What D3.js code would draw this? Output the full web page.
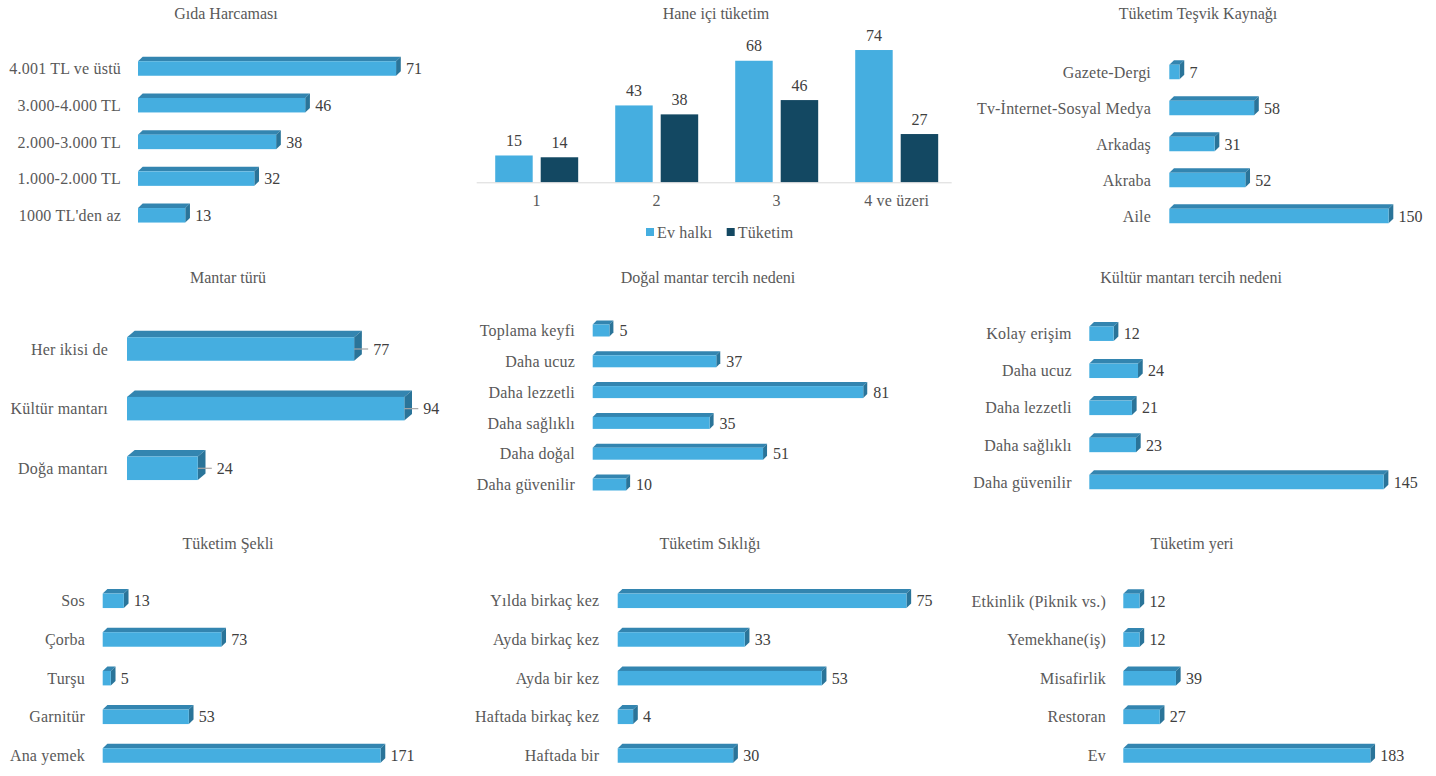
<!DOCTYPE html>
<html><head><meta charset="utf-8">
<script src="https://cdn.jsdelivr.net/npm/d3@7"></script>
<style>
html,body{margin:0;padding:0;background:#fff;}
</style></head>
<body>
<svg id="c" width="1436" height="776"></svg>
<script>
// ---------- DATA ----------
const gidaTitle = "Gıda Harcaması";
const gidaCats = ["4.001 TL ve üstü", "3.000-4.000 TL", "2.000-3.000 TL", "1.000-2.000 TL", "1000 TL'den az"];
const gidaVals = [71, 46, 38, 32, 13];

const haneTitle = "Hane içi tüketim";
const haneCats = ["1", "2", "3", "4 ve üzeri"];
const haneSeries = ["Ev halkı", "Tüketim"];
const haneEvHalki = [15, 43, 68, 74];
const haneTuketim = [14, 38, 46, 27];

const tesvikTitle = "Tüketim Teşvik Kaynağı";
const tesvikCats = ["Gazete-Dergi", "Tv-İnternet-Sosyal Medya", "Arkadaş", "Akraba", "Aile"];
const tesvikVals = [7, 58, 31, 52, 150];

const turTitle = "Mantar türü";
const turCats = ["Her ikisi de", "Kültür mantarı", "Doğa mantarı"];
const turVals = [77, 94, 24];

const dogalTitle = "Doğal mantar tercih nedeni";
const dogalCats = ["Toplama keyfi", "Daha ucuz", "Daha lezzetli", "Daha sağlıklı", "Daha doğal", "Daha güvenilir"];
const dogalVals = [5, 37, 81, 35, 51, 10];

const kulturTitle = "Kültür mantarı tercih nedeni";
const kulturCats = ["Kolay erişim", "Daha ucuz", "Daha lezzetli", "Daha sağlıklı", "Daha güvenilir"];
const kulturVals = [12, 24, 21, 23, 145];

const sekilTitle = "Tüketim Şekli";
const sekilCats = ["Sos", "Çorba", "Turşu", "Garnitür", "Ana yemek"];
const sekilVals = [13, 73, 5, 53, 171];

const siklikTitle = "Tüketim Sıklığı";
const siklikCats = ["Yılda birkaç kez", "Ayda birkaç kez", "Ayda bir kez", "Haftada birkaç kez", "Haftada bir"];
const siklikVals = [75, 33, 53, 4, 30];

const yerTitle = "Tüketim yeri";
const yerCats = ["Etkinlik (Piknik vs.)", "Yemekhane(iş)", "Misafirlik", "Restoran", "Ev"];
const yerVals = [12, 12, 39, 27, 183];

// ---------- STYLE ----------
const FF = "'Liberation Serif', 'Times New Roman', Tinos, serif";
const FONT = 16;
const LS = 0.2;
const C_FRONT = "#45AEE0", C_TOP = "#3385B0", C_SIDE = "#2A7499";
const C_DARK = "#134862";
const C_TEXT = "#595959", C_VAL = "#404040";

const svg = d3.select("#c").attr("font-family", FF);

function txt(sel) { return sel.append("text").attr("font-family", FF); }

function title(t, cx, cy) {
  txt(svg).attr("x", cx).attr("y", cy).attr("dy", "0.35em")
    .attr("text-anchor", "middle").attr("fill", C_TEXT).attr("font-size", 16).text(t);
}

// horizontal 3D bar panel
function hbar(cfg) {
  const {cats, vals} = cfg;
  const x = d3.scaleLinear().domain([0, cfg.max]).range([cfg.x0, cfg.x0 + cfg.k * cfg.max]);
  const y = d3.scalePoint().domain(cats).range([cfg.yFirst, cfg.yLast]);
  const h = cfg.h, dx = cfg.dx, dy = cfg.dy;
  const g = svg.append("g");
  title(cfg.title, cfg.tx, cfg.ty);
  cats.forEach((c, i) => {
    const v = vals[i];
    const x0 = x(0), x1 = x(v), yt = y(c) - h / 2, yb = y(c) + h / 2;
    g.append("polygon").attr("points", [[x0, yt], [x0 + dx, yt - dy], [x1 + dx, yt - dy], [x1, yt]].join(" ")).attr("fill", C_TOP);
    g.append("polygon").attr("points", [[x1, yt], [x1 + dx, yt - dy], [x1 + dx, yb - dy], [x1, yb]].join(" ")).attr("fill", C_SIDE);
    g.append("rect").attr("x", x0).attr("y", yt).attr("width", x1 - x0).attr("height", h).attr("fill", C_FRONT);
    txt(g).attr("x", cfg.labelX).attr("y", y(c)).attr("dy", "0.35em")
      .attr("text-anchor", "end").attr("fill", C_TEXT).attr("font-size", FONT).attr("letter-spacing", LS).text(c);
    let lx = x1 + 10;
    if (cfg.leader) {
      g.append("line").attr("x1", x1).attr("x2", x1 + 14).attr("y1", y(c)).attr("y2", y(c))
        .attr("stroke", "#a6a6a6").attr("stroke-width", 1.2);
      lx = x1 + 19;
    }
    txt(g).attr("x", lx).attr("y", y(c)).attr("dy", "0.35em")
      .attr("fill", C_VAL).attr("font-size", FONT).text(v);
  });
}

const std = {h: 14.5, dx: 4.7, dy: 4.5};
hbar({...std, title: gidaTitle, tx: 226, ty: 13, cats: gidaCats, vals: gidaVals, max: 80, k: 3.635, x0: 138, yFirst: 68.5, yLast: 215.3, labelX: 121});
hbar({...std, title: tesvikTitle, tx: 1198, ty: 13, cats: tesvikCats, vals: tesvikVals, max: 160, k: 1.462, x0: 1169.3, yFirst: 72, yLast: 216, labelX: 1151});
hbar({title: turTitle, tx: 228, ty: 277, cats: turCats, vals: turVals, max: 100, k: 2.95, x0: 127, yFirst: 349, yLast: 468.3, labelX: 108, h: 23.5, dx: 7.7, dy: 6.5, leader: true});
hbar({title: dogalTitle, tx: 708, ty: 277, cats: dogalCats, vals: dogalVals, max: 90, k: 3.34, x0: 592.7, yFirst: 330.5, yLast: 484.5, labelX: 575, h: 12, dx: 4, dy: 4});
hbar({...std, title: kulturTitle, tx: 1191, ty: 277, cats: kulturCats, vals: kulturVals, max: 160, k: 2.03, x0: 1089.3, yFirst: 333.7, yLast: 482, labelX: 1071.7});
hbar({...std, title: sekilTitle, tx: 228, ty: 543, cats: sekilCats, vals: sekilVals, max: 180, k: 1.625, x0: 102.7, yFirst: 600.8, yLast: 755.5, labelX: 85});
hbar({...std, title: siklikTitle, tx: 710, ty: 543, cats: siklikCats, vals: siklikVals, max: 80, k: 3.85, x0: 617.7, yFirst: 600.8, yLast: 755.5, labelX: 599.3});
hbar({...std, title: yerTitle, tx: 1192, ty: 543, cats: yerCats, vals: yerVals, max: 200, k: 1.35, x0: 1123.3, yFirst: 601, yLast: 755.5, labelX: 1106});

// ---------- column chart ----------
(function () {
  title(haneTitle, 716, 13);
  const x0 = d3.scaleBand().domain(haneCats).range([476.7, 956.7]);
  const x1 = d3.scaleBand().domain(haneSeries).range([0, x0.bandwidth()]).paddingInner(0.176).paddingOuter(0.407);
  const y = d3.scaleLinear().domain([0, 80]).range([182.3, 39.3]);
  const colors = {"Ev halkı": C_FRONT, "Tüketim": C_DARK};
  const data = [haneEvHalki, haneTuketim];
  const g = svg.append("g");
  haneCats.forEach((c, i) => {
    haneSeries.forEach((s, j) => {
      const v = data[j][i];
      const bx = x0(c) + x1(s);
      g.append("rect").attr("x", bx).attr("y", y(v)).attr("width", x1.bandwidth()).attr("height", y(0) - y(v)).attr("fill", colors[s]);
      txt(g).attr("x", bx + x1.bandwidth() / 2).attr("y", y(v) - 15).attr("dy", "0.35em")
        .attr("text-anchor", "middle").attr("fill", C_VAL).attr("font-size", FONT).text(v);
    });
  });
  const axis = d3.axisBottom(x0).tickSize(0).tickPadding(12);
  const ag = svg.append("g").attr("transform", "translate(0,182.3)").call(axis).attr("font-family", FF);
  ag.select(".domain").attr("stroke", "#d9d9d9").attr("d", "M476.7,0.5H951.7");
  ag.selectAll("text").attr("fill", C_TEXT).attr("font-size", FONT).attr("letter-spacing", LS).attr("font-family", FF);
  // legend
  const lg = svg.append("g");
  const lx = [646, 726.7];
  haneSeries.forEach((s, j) => {
    lg.append("rect").attr("x", lx[j]).attr("y", 228).attr("width", 8).attr("height", 8).attr("fill", colors[s]);
    txt(lg).attr("x", lx[j] + 11).attr("y", 232).attr("dy", "0.35em").attr("fill", C_TEXT).attr("font-size", FONT).attr("letter-spacing", LS).text(s);
  });
})();
</script>
</body></html>
